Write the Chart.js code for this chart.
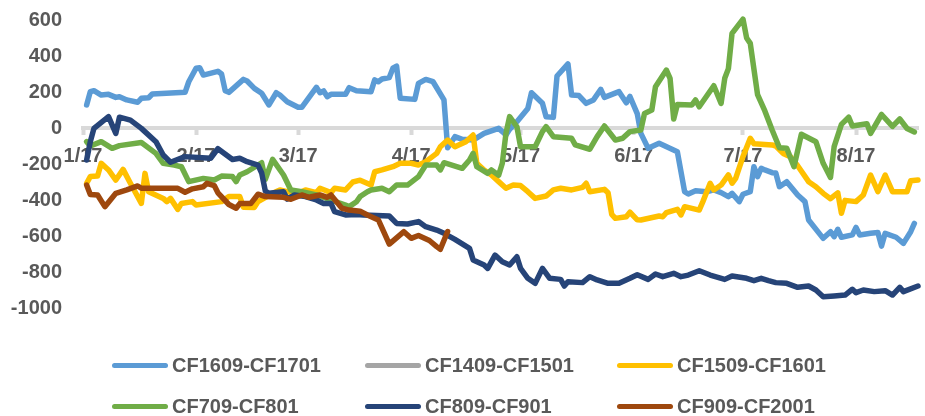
<!DOCTYPE html>
<html>
<head>
<meta charset="utf-8">
<script src="https://cdn.jsdelivr.net/npm/chart.js@4.4.1/dist/chart.umd.min.js"></script>
<style>
  html, body { margin: 0; padding: 0; background: #ffffff; }
  #wrap { position: relative; width: 925px; height: 416px; overflow: hidden; }
  #chart { position: absolute; left: 0; top: 0; }
  .legend-item {
    position: absolute;
    height: 24px;
    display: flex;
    align-items: center;
    white-space: nowrap;
    font: bold 20px "Liberation Sans", Arial, sans-serif;
    color: #595959;
  }
  .legend-swatch { width: 56px; height: 5px; border-radius: 3px; margin-right: 4px; }
</style>
</head>
<body>
<div id="wrap">
  <canvas id="chart" width="925" height="416"></canvas>
  <div id="legend"></div>
</div>
<script>
// x axis: days counted from 1/17, one tick on the 17th of every month
const tickDays = [0, 31, 59, 90, 120, 151, 181, 212]
const tickLabels = ["1/17", "2/17", "3/17", "4/17", "5/17", "6/17", "7/17", "8/17"]

const seriesNames = ["CF1609-CF1701", "CF1409-CF1501", "CF1509-CF1601", "CF709-CF801", "CF809-CF901", "CF909-CF2001"]
const seriesColors = ["#5B9BD5", "#A5A5A5", "#FFC000", "#70AD47", "#264478", "#9E480E"]

const cf1609Days = [1, 2, 3, 5, 7, 9, 10, 12, 15, 16, 18, 19, 28, 29, 31, 32, 33, 37, 38, 39, 40, 44, 45, 47, 49, 51, 53, 54, 56, 59, 60, 64, 65, 66, 67, 68, 72, 73, 75, 79, 80, 81, 82, 84, 85, 86, 87, 91, 92, 94, 96, 99, 100, 102, 104, 107, 110, 114, 115, 116, 117, 119, 122, 123, 126, 127, 129, 130, 133, 134, 136, 138, 140, 142, 143, 147, 149, 150, 152, 153, 155, 158, 163, 165, 166, 168, 171, 173, 175, 177, 178, 180, 181, 183, 184, 185, 186, 187, 189, 190, 191, 193, 196, 198, 199, 203, 205, 206, 207, 208, 211, 212, 213, 216, 218, 219, 220, 223, 225, 227, 228]
const cf1609 = [128, 202, 207, 183, 187, 170, 174, 156, 143, 165, 168, 189, 198, 257, 332, 335, 294, 315, 300, 207, 198, 270, 261, 220, 193, 128, 196, 183, 146, 115, 115, 226, 196, 206, 174, 187, 187, 224, 207, 202, 267, 257, 272, 280, 332, 344, 165, 159, 248, 270, 257, 156, -110, -48, -63, -67, -30, -2, -20, -39, -7, 35, 109, 196, 137, 63, 59, 289, 356, 183, 180, 137, 156, 215, 170, 202, 140, 175, 80, -30, -113, -85, -132, -354, -367, -348, -354, -344, -359, -381, -363, -409, -368, -354, -215, -270, -224, -233, -248, -250, -326, -298, -372, -409, -511, -613, -576, -604, -563, -607, -594, -552, -594, -585, -581, -656, -585, -607, -641, -576, -530]

const cf1409Days = []
const cf1409 = []

const cf1509Days = [1, 2, 4, 5, 7, 9, 11, 13, 16, 17, 18, 22, 23, 24, 26, 27, 30, 31, 38, 40, 43, 44, 47, 48, 52, 54, 56, 59, 61, 64, 65, 68, 69, 72, 74, 76, 79, 80, 82, 85, 87, 90, 92, 94, 97, 98, 100, 102, 105, 107, 108, 110, 112, 114, 116, 118, 120, 122, 124, 127, 129, 131, 134, 137, 138, 139, 143, 144, 145, 146, 149, 150, 152, 153, 158, 159, 160, 163, 164, 165, 169, 170, 172, 173, 175, 177, 178, 179, 181, 183, 184, 189, 190, 192, 194, 196, 199, 201, 203, 205, 207, 208, 209, 212, 214, 216, 218, 220, 222, 226, 227, 229]
const cf1509 = [-307, -270, -267, -196, -233, -289, -230, -307, -419, -252, -354, -391, -409, -391, -452, -419, -409, -428, -409, -381, -381, -440, -441, -409, -363, -344, -354, -363, -344, -359, -335, -359, -335, -344, -300, -290, -317, -243, -233, -215, -196, -196, -206, -187, -141, -104, -67, -104, -76, -39, -196, -233, -261, -298, -335, -317, -320, -354, -391, -378, -344, -335, -344, -330, -307, -354, -341, -360, -480, -502, -493, -468, -510, -511, -489, -493, -470, -452, -483, -437, -456, -409, -307, -344, -317, -261, -307, -280, -159, -57, -88, -94, -100, -141, -159, -210, -298, -326, -363, -393, -360, -474, -402, -409, -372, -261, -354, -261, -354, -354, -293, -289]

const cf709Days = [1, 2, 5, 8, 10, 16, 20, 22, 25, 27, 29, 33, 36, 38, 41, 42, 43, 45, 49, 50, 52, 55, 57, 60, 64, 68, 72, 73, 75, 76, 78, 79, 82, 84, 86, 89, 92, 94, 97, 98, 99, 104, 106, 107, 108, 111, 112, 114, 115, 116, 117, 119, 120, 124, 126, 127, 129, 134, 135, 139, 141, 143, 146, 148, 150, 153, 154, 156, 157, 160, 161, 162, 163, 167, 168, 169, 173, 175, 176, 177, 178, 181, 182, 183, 185, 187, 189, 191, 193, 195, 197, 201, 203, 205, 206, 208, 210, 211, 215, 216, 219, 222, 224, 226, 228]
const cf709 = [-76, -100, -76, -113, -98, -81, -141, -196, -206, -215, -298, -280, -289, -267, -270, -298, -261, -243, -193, -285, -174, -261, -344, -354, -372, -400, -428, -437, -410, -381, -354, -344, -335, -354, -317, -317, -270, -206, -206, -233, -193, -224, -178, -141, -215, -252, -233, -262, -196, -30, 63, 7, -104, -104, -20, 7, -48, -57, -94, -118, -48, 11, -67, -57, -20, -11, 81, 100, 229, 322, 276, 50, 130, 128, 156, 118, 235, 137, 276, 330, 526, 605, 500, 470, 185, 95, -11, -110, -113, -215, -35, -76, -196, -275, -104, 20, 60, 11, 24, -30, 75, 9, 50, -3, -22]

const cf809Days = [1, 2, 3, 7, 9, 10, 13, 16, 20, 22, 24, 28, 35, 37, 41, 43, 45, 48, 49, 50, 51, 55, 56, 58, 61, 64, 66, 68, 69, 72, 75, 77, 84, 86, 89, 92, 94, 97, 99, 102, 106, 107, 110, 111, 113, 115, 117, 119, 120, 122, 124, 126, 128, 131, 132, 133, 137, 139, 141, 144, 147, 150, 152, 155, 157, 159, 162, 164, 166, 169, 172, 176, 178, 182, 184, 186, 188, 190, 193, 196, 199, 201, 203, 206, 209, 211, 212, 214, 217, 220, 222, 224, 225, 229]
const cf809 = [-178, -76, -2, 63, -30, 60, 44, -2, -76, -150, -190, -159, -168, -115, -175, -168, -187, -206, -250, -350, -363, -354, -395, -372, -381, -400, -419, -419, -465, -483, -480, -483, -489, -530, -533, -520, -548, -567, -585, -619, -669, -733, -761, -780, -706, -743, -761, -715, -780, -835, -863, -780, -835, -841, -878, -854, -859, -826, -844, -863, -863, -835, -815, -841, -811, -826, -807, -826, -817, -793, -817, -841, -822, -835, -848, -835, -848, -859, -863, -885, -878, -900, -937, -933, -928, -896, -915, -900, -909, -904, -928, -885, -909, -878]

const cf909Days = [1, 2, 4, 6, 9, 12, 15, 16, 26, 28, 30, 33, 34, 36, 37, 40, 42, 43, 46, 48, 50, 55, 57, 60, 62, 65, 67, 68, 71, 73, 76, 78, 81, 84, 86, 88, 90, 92, 95, 97, 98, 100]
const cf909 = [-317, -370, -372, -437, -363, -344, -322, -335, -335, -357, -338, -326, -307, -320, -360, -425, -446, -420, -420, -368, -381, -385, -396, -372, -385, -372, -385, -372, -446, -456, -462, -483, -511, -645, -610, -576, -613, -597, -625, -659, -674, -575]

const seriesDays = [cf1609Days, cf1409Days, cf1509Days, cf709Days, cf809Days, cf909Days]
const seriesValues = [cf1609, cf1409, cf1509, cf709, cf809, cf909]

const TEXT_COLOR = "#595959"
const AXIS_COLOR = "#D9D9D9"
const FONT = { family: "'Liberation Sans', Arial, sans-serif", size: 20, weight: "bold" }

function toPoints(days, values) {
  return days.map((d, i) => ({ x: d, y: values[i] }))
}

function buildDatasets() {
  // later series sit on top, like the spreadsheet draws them
  return seriesNames.map((name, i) => ({
    label: name,
    data: toPoints(seriesDays[i], seriesValues[i]),
    borderColor: seriesColors[i],
    backgroundColor: seriesColors[i],
    order: seriesNames.length - i,
    clip: 10,
  }))
}

function renderLegend() {
  const legend = document.getElementById("legend")
  const columns = [112, 365, 617]
  const rows = [353, 394]
  legend.innerHTML = seriesNames
    .map((name, i) => {
      const left = columns[i % 3]
      const top = rows[Math.floor(i / 3)]
      return `
        <div class="legend-item" style="left:${left}px;top:${top}px">
          <span class="legend-swatch" style="background:${seriesColors[i]}"></span>${name}
        </div>`
    })
    .join("")
}

function renderChart() {
  const ctx = document.getElementById("chart")
  new Chart(ctx, {
    type: "line",
    data: { datasets: buildDatasets() },
    options: {
      responsive: false,
      animation: false,
      layout: { padding: { top: 20, right: 7, bottom: 108, left: 0 } },
      plugins: {
        legend: { display: false },
        tooltip: { enabled: false },
      },
      elements: {
        point: { radius: 0 },
        line: { borderWidth: 5.5, tension: 0, borderJoinStyle: "round", borderCapStyle: "round" },
      },
      scales: {
        x: {
          type: "linear",
          position: { y: 0 },
          min: 0,
          max: 229,
          afterFit: (scale) => {
            scale.height = 0
          },
          afterBuildTicks: (scale) => {
            scale.ticks = tickDays.map((v) => ({ value: v }))
          },
          ticks: {
            autoSkip: false,
            maxRotation: 0,
            padding: 11,
            color: TEXT_COLOR,
            font: FONT,
            callback: (value, index) => tickLabels[index],
          },
          grid: { drawOnChartArea: false, tickLength: 5, tickWidth: 4, tickColor: AXIS_COLOR },
          border: { color: AXIS_COLOR, width: 4 },
        },
        y: {
          min: -1000,
          max: 600,
          afterFit: (scale) => {
            // fixed gutter; the tick padding should not push the plot down
            scale.width = 83
            scale.paddingTop = 0
            scale.paddingBottom = 0
          },
          ticks: {
            stepSize: 200,
            padding: 21,
            color: TEXT_COLOR,
            font: FONT,
            callback: (value) => String(value),
          },
          grid: { display: false, drawTicks: false },
          border: { display: false },
        },
      },
    },
  })
}

document.addEventListener("DOMContentLoaded", () => {
  renderLegend()
  renderChart()
})
</script>
</body>
</html>
